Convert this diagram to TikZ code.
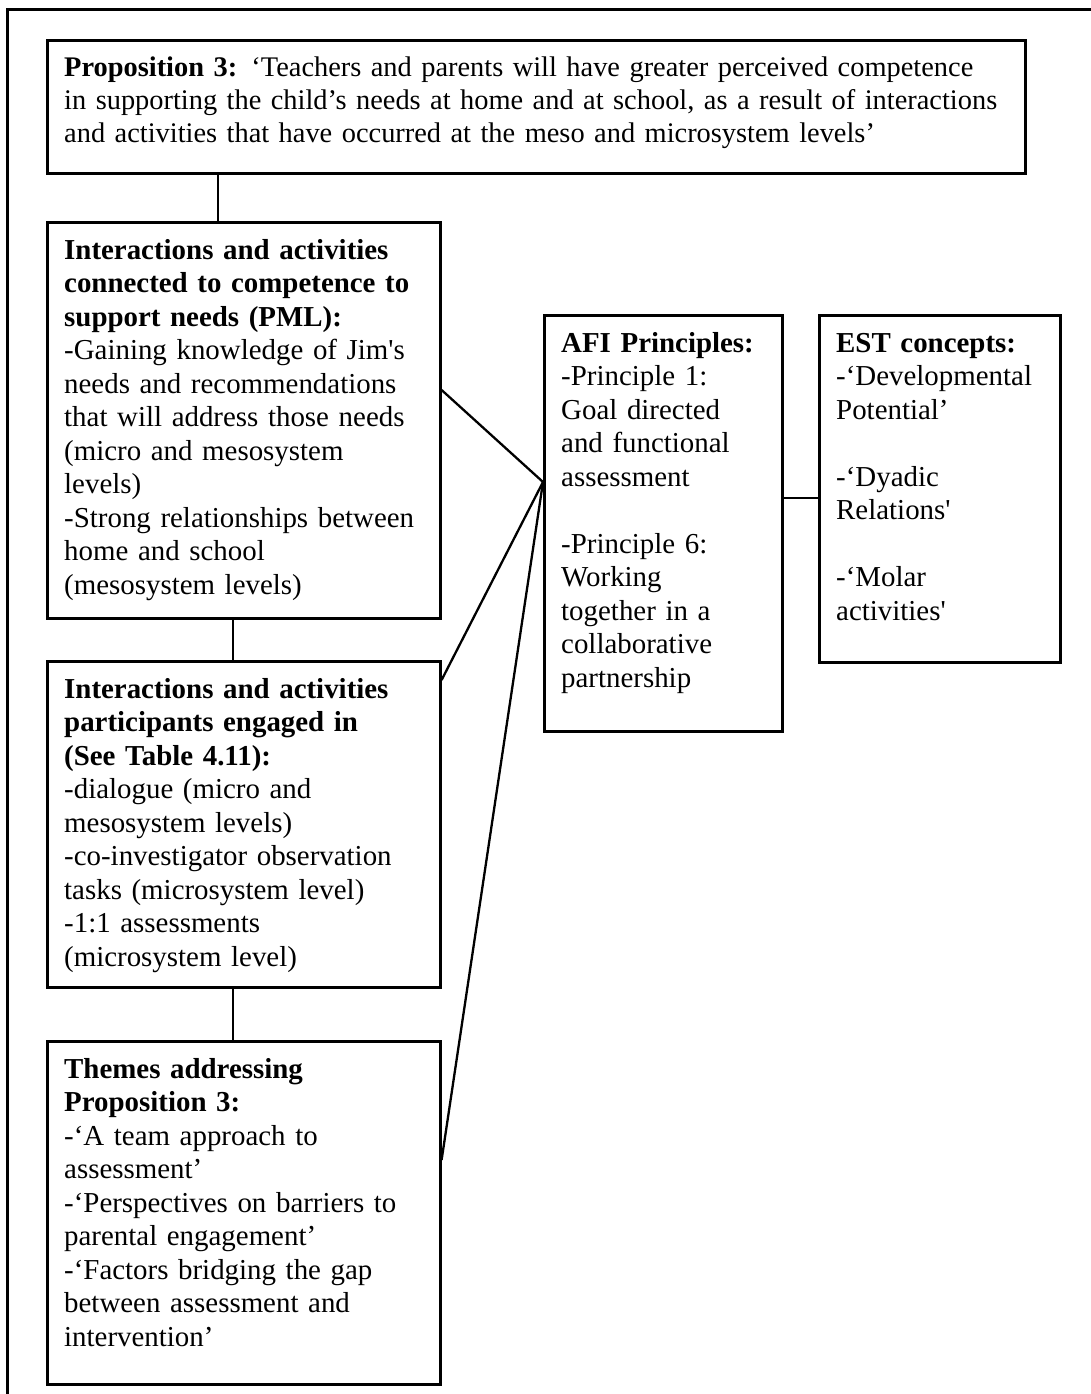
\documentclass[tikz,border=0pt]{standalone}
\usepackage{fontspec}
\setmainfont{Liberation Serif}[Ligatures=TeXOff]
\begin{document}
\begin{tikzpicture}[x=1pt,y=-1pt,
  box/.style={draw, line width=2.6pt, rectangle, inner sep=0pt, anchor=north west},
  txt/.style={anchor=base west, inner sep=0pt, align=left, text width=1000pt,
    font=\fontsize{28.9}{33.5}\selectfont},
  wide/.style={font=\fontsize{28.4}{33}\selectfont},
  link/.style={line width=2.3pt}]
\useasboundingbox (0,0) rectangle (1091,1394);
% page frame
\draw[line width=3pt] (7,1394) -- (7,10) -- (1091,10);

% boxes
\node[box, minimum width=978pt, minimum height=133pt] (prop) at (46,39) {};
\node[box, minimum width=393pt, minimum height=396pt] (pml) at (46,221) {};
\node[box, minimum width=393pt, minimum height=326pt] (act) at (46,660) {};
\node[box, minimum width=393pt, minimum height=343pt] (thm) at (46,1040) {};
\node[box, minimum width=238pt, minimum height=416pt] (afi) at (543,314) {};
\node[box, minimum width=241pt, minimum height=347pt] (est) at (818,314) {};

% box texts
\node[txt, wide] (proptxt) at ([shift={(18,38)}]prop.north west)
  {\textbf{Proposition 3:} ‘Teachers and parents will have greater perceived competence\\
   in supporting the child’s needs at home and at school, as a result of interactions\\
   and activities that have occurred at the meso and microsystem levels’};
\node[txt] (pmltxt) at ([shift={(18,38)}]pml.north west)
  {\textbf{Interactions and activities}\\
   \textbf{connected to competence to}\\
   \textbf{support needs (PML):}\\
   -Gaining knowledge of Jim's\\
   needs and recommendations\\
   that will address those needs\\
   (micro and mesosystem\\
   levels)\\
   -Strong relationships between\\
   home and school\\
   (mesosystem levels)};
\node[txt] (acttxt) at ([shift={(18,38)}]act.north west)
  {\textbf{Interactions and activities}\\
   \textbf{participants engaged in}\\
   \textbf{(See Table 4.11):}\\
   -dialogue (micro and\\
   mesosystem levels)\\
   -co-investigator observation\\
   tasks (microsystem level)\\
   -1:1 assessments\\
   (microsystem level)};
\node[txt] (thmtxt) at ([shift={(18,38)}]thm.north west)
  {\textbf{Themes addressing}\\
   \textbf{Proposition 3:}\\
   -‘A team approach to\\
   assessment’\\
   -‘Perspectives on barriers to\\
   parental engagement’\\
   -‘Factors bridging the gap\\
   between assessment and\\
   intervention’};
\node[txt] (afitxt) at ([shift={(18,38)}]afi.north west)
  {\textbf{AFI Principles:}\\
   -Principle 1:\\
   Goal directed\\
   and functional\\
   assessment\\
   \mbox{}\\
   -Principle 6:\\
   Working\\
   together in a\\
   collaborative\\
   partnership};
\node[txt] (esttxt) at ([shift={(18,38)}]est.north west)
  {\textbf{EST concepts:}\\
   -‘Developmental\\
   Potential’\\
   \mbox{}\\
   -‘Dyadic\\
   Relations'\\
   \mbox{}\\
   -‘Molar\\
   activities'};

% connectors
\coordinate (hub) at ([shift={(0,168)}]afi.north west);
\draw[link] ([shift={(172,0)}]prop.south west) -- ([shift={(172,0)}]pml.north west);
\draw[link] ([shift={(187,0)}]pml.south west) -- ([shift={(187,0)}]act.north west);
\draw[link] ([shift={(187,0)}]act.south west) -- ([shift={(187,0)}]thm.north west);
\draw[link] ([shift={(0,169)}]pml.north east) -- (hub);
\draw[link] ([shift={(0,20)}]act.north east) -- (hub);
\draw[link] ([shift={(0,120)}]thm.north east) -- (hub);
\draw[link] ([shift={(0,184)}]afi.north east) -- ([shift={(0,184)}]est.north west);
\end{tikzpicture}
\end{document}
